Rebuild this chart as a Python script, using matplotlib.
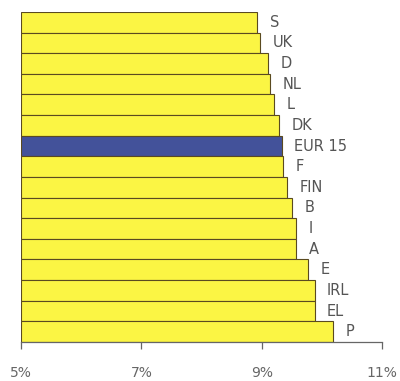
import matplotlib
matplotlib.use("Agg")
import matplotlib.pyplot as plt
import numpy as np

countries = ["S", "UK", "D", "NL", "L", "DK", "EUR 15", "F", "FIN", "B", "I", "A", "E", "IRL", "EL", "P"]
values = [8.93, 8.98, 9.11, 9.14, 9.20, 9.29, 9.33, 9.36, 9.42, 9.51, 9.57, 9.57, 9.77, 9.88, 9.88, 10.18]
xticks = [5, 7, 9, 11]
xtick_labels = ["5%", "7%", "9%", "11%"]

base = 5
fig = plt.figure(figsize=(4.0, 3.81), dpi=100)
ax = fig.add_axes([0.0525, 0.1024, 0.9025, 0.8661])

ypos = np.arange(len(countries))
colors = ["#43529a" if c == "EUR 15" else "#fbf544" for c in countries]
ax.barh(ypos, [v - base for v in values], left=base, height=1.0,
        color=colors, edgecolor="#5a4a20", linewidth=0.8)

for y, v, c in zip(ypos, values, countries):
    ax.annotate(c, xy=(v, y), xytext=(9, 0), textcoords="offset points",
                ha="left", va="center", fontsize=10.5, color="#555555")

ax.set_xlim(5, 11)
ax.set_ylim(len(countries) - 0.5, -0.5)
ax.set_xticks(xticks)
ax.set_xticklabels(xtick_labels, fontsize=10, color="#666666")
ax.set_yticks([])
for s in ["top", "right", "left"]:
    ax.spines[s].set_visible(False)
ax.spines["bottom"].set_color("#666666")
ax.spines["bottom"].set_linewidth(0.9)
ax.tick_params(axis="x", direction="out", length=5, width=0.9, color="#666666", pad=12)

fig.savefig("out.png", dpi=100)
